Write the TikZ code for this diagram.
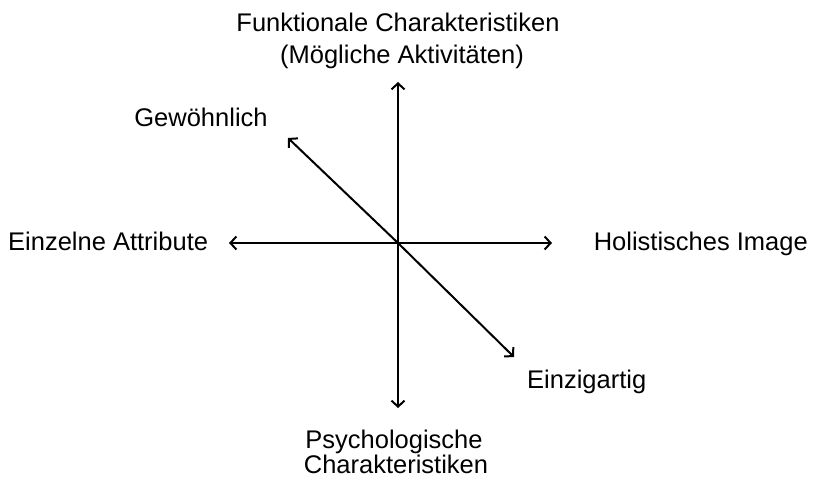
\documentclass[tikz,border=0pt]{standalone}
\usepackage{fontspec}
\setmainfont{Liberation Sans}
\usetikzlibrary{arrows.meta}
\begin{document}
\begin{tikzpicture}[x=1pt,y=-1pt,
  axis/.style={line width=2pt,-{Straight Barb[length=6pt,width=13pt,line width=2pt]}},
  lbl/.style={font=\fontsize{25.5}{32}\selectfont, inner sep=0pt, anchor=base}]
\useasboundingbox (0,0) rectangle (813,478);
\coordinate (c) at (398,243);
\coordinate (top) at (398,82);
\coordinate (bot) at (398,408);
\coordinate (lft) at (229,243);
\coordinate (rgt) at (552,243);
\coordinate (ul) at (288,138);
\coordinate (lr) at (514,357);
\draw[axis] (c) -- (top);
\draw[axis] (c) -- (bot);
\draw[axis] (c) -- (lft);
\draw[axis] (c) -- (rgt);
\draw[axis] (c) -- (ul);
\draw[axis] (c) -- (lr);
\node[lbl] (f1) at (398,32) {Funktionale Charakteristiken};
\node[lbl] (f2) at (402,64) {(Mögliche Aktivitäten)};
\node[lbl] (g) at (201,127) {Gewöhnlich};
\node[lbl,anchor=base west] (e) at (8,251) {Einzelne Attribute};
\node[lbl,anchor=base east] (h) at (808,251) {Holistisches Image};
\node[lbl,anchor=base west] (z) at (527,388) {Einzigartig};
\node[lbl] (p1) at (394,448) {Psychologische};
\node[lbl] (p2) at (396,473) {Charakteristiken};
\end{tikzpicture}
\end{document}
